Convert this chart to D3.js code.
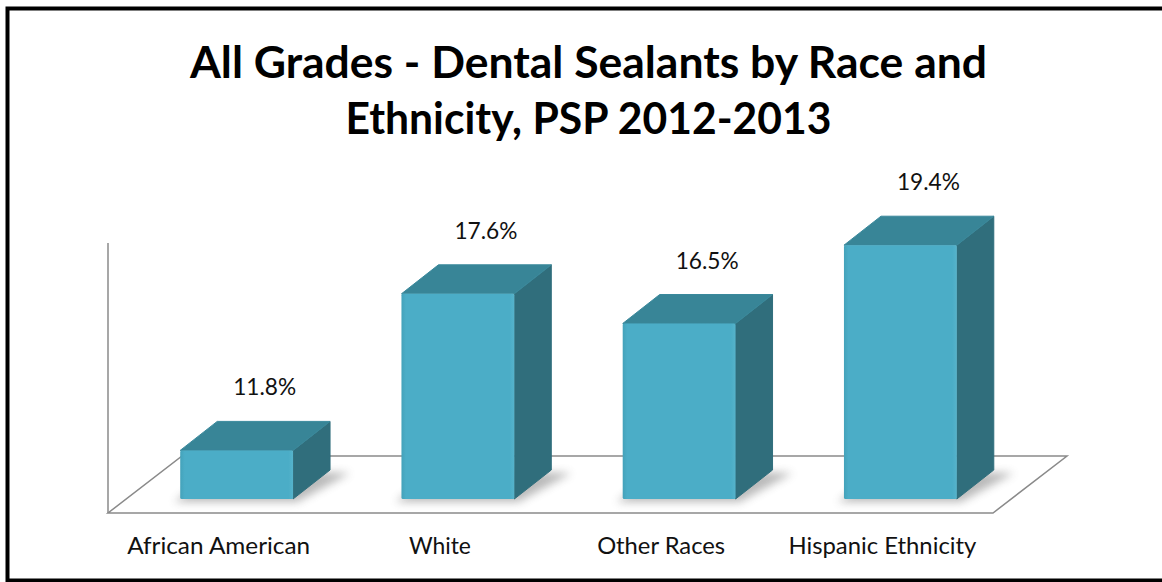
<!DOCTYPE html>
<html>
<head>
<meta charset="utf-8">
<script src="https://cdn.jsdelivr.net/npm/d3@7"></script>
<style>
  html, body { margin: 0; padding: 0; background: #fff; }
  svg { display: block; }
</style>
</head>
<body>
<svg id="chart" width="1162" height="582"></svg>
<script>
// ---- data ----
const categories = ["African American", "White", "Other Races", "Hispanic Ethnicity"];
const values = [11.8, 17.6, 16.5, 19.4];
const valueLabels = ["11.8%", "17.6%", "16.5%", "19.4%"];
const yDomain = [10, 20];
const titleLines = ["All Grades - Dental Sealants by Race and", "Ethnicity, PSP 2012-2013"];

// ---- layout / style ----
const floor = { left: 108, right: 993, frontY: 513, dx: 74, dy: -57 };
const barDepth = { dx: 37, dy: -29 };
const front = { dx: 18, dy: -14 };
const plotH = 270;
const font = "Lato, 'Open Sans', 'DejaVu Sans', sans-serif";
const catWidths = [183, 62, 128, 188];
const titleWidths = [797, 486];

const svg = d3.select("#chart");

const defs = svg.append("defs");
const f = defs.append("filter").attr("id", "shadow").attr("x", "-30%").attr("y", "-30%").attr("width", "160%").attr("height", "160%");
f.append("feGaussianBlur").attr("stdDeviation", 4);

const gFront = defs.append("linearGradient").attr("id", "gFront").attr("x1", 0).attr("x2", 1).attr("y1", 0).attr("y2", 0);
gFront.append("stop").attr("offset", "0%").attr("stop-color", "#44a2ba");
gFront.append("stop").attr("offset", "4%").attr("stop-color", "#4badc7");
gFront.append("stop").attr("offset", "96%").attr("stop-color", "#4badc7");
gFront.append("stop").attr("offset", "100%").attr("stop-color", "#56b3cb");

// border
svg.append("rect")
  .attr("x", 7.5).attr("y", 8.5).attr("width", 1200).attr("height", 572)
  .attr("fill", "#fff").attr("stroke", "#000").attr("stroke-width", 4);

// scales
const x = d3.scaleBand().domain(categories)
  .range([floor.left, floor.right]).paddingInner(0.49).paddingOuter(0.245);
const y = d3.scaleLinear().domain(yDomain).range([0, plotH]);

// floor
const floorPts = [
  [floor.left, floor.frontY], [floor.right, floor.frontY],
  [floor.right + floor.dx, floor.frontY + floor.dy], [floor.left + floor.dx, floor.frontY + floor.dy]
];
svg.append("polygon")
  .attr("points", floorPts.map(p => p.join(",")).join(" "))
  .attr("fill", "#fff").attr("stroke", "#8a8a8a").attr("stroke-width", 1.5);

// wall line
svg.append("line")
  .attr("x1", floor.left).attr("x2", floor.left)
  .attr("y1", floor.frontY).attr("y2", floor.frontY - y(yDomain[1]))
  .attr("stroke", "#8a8a8a").attr("stroke-width", 1.5);

const data = categories.map((c, i) => ({ c, v: values[i], label: valueLabels[i] }));
const bw = x.bandwidth();
const baseY = floor.frontY + front.dy;

const bars = svg.append("g").selectAll("g").data(data).join("g");

// shadows
bars.append("polygon")
  .attr("points", d => {
    const x0 = x(d.c) + front.dx;
    return [
      [x0 - 6, baseY + 3], [x0 + bw + 4, baseY + 3],
      [x0 + bw + barDepth.dx + 20, baseY + barDepth.dy + 3],
      [x0 + barDepth.dx, baseY + barDepth.dy]
    ].map(p => p.join(",")).join(" ");
  })
  .attr("fill", "#666").attr("opacity", 0.45).attr("filter", "url(#shadow)");

// side face
bars.append("polygon")
  .attr("points", d => {
    const x0 = x(d.c) + front.dx, yt = baseY - y(d.v);
    return [
      [x0 + bw, yt], [x0 + bw + barDepth.dx, yt + barDepth.dy],
      [x0 + bw + barDepth.dx, baseY + barDepth.dy], [x0 + bw, baseY]
    ].map(p => p.join(",")).join(" ");
  })
  .attr("fill", "#306e7c").attr("stroke", "#306e7c").attr("stroke-width", 1).attr("stroke-linejoin", "round");

// top face
bars.append("polygon")
  .attr("points", d => {
    const x0 = x(d.c) + front.dx, yt = baseY - y(d.v);
    return [
      [x0, yt], [x0 + bw, yt],
      [x0 + bw + barDepth.dx, yt + barDepth.dy], [x0 + barDepth.dx, yt + barDepth.dy]
    ].map(p => p.join(",")).join(" ");
  })
  .attr("fill", "#388597").attr("stroke", "#3a899c").attr("stroke-width", 1).attr("stroke-linejoin", "round");

// front face
bars.append("rect")
  .attr("x", d => x(d.c) + front.dx)
  .attr("y", d => baseY - y(d.v))
  .attr("width", bw)
  .attr("height", d => y(d.v))
  .attr("rx", 1.5)
  .attr("fill", "url(#gFront)");

// value labels
bars.append("text")
  .attr("x", d => x(d.c) + x.bandwidth() / 2 + 46)
  .attr("y", d => baseY - y(d.v) - 55)
  .attr("text-anchor", "middle")
  .attr("font-family", font).attr("font-size", 22.5).attr("fill", "#111")
  .attr("textLength", 63).attr("lengthAdjust", "spacingAndGlyphs")
  .text(d => d.label);

// category labels
svg.append("g").selectAll("text").data(categories).join("text")
  .attr("x", d => x(d) + x.bandwidth() / 2)
  .attr("y", 554)
  .attr("text-anchor", "middle")
  .attr("font-family", font).attr("font-size", 23).attr("fill", "#111")
  .attr("textLength", (d, i) => catWidths[i]).attr("lengthAdjust", "spacingAndGlyphs")
  .text(d => d);

// title
svg.append("g").selectAll("text").data(titleLines).join("text")
  .attr("x", 588.5)
  .attr("y", (d, i) => 78 + i * 56)
  .attr("text-anchor", "middle")
  .attr("font-family", font).attr("font-weight", "bold").attr("font-size", 44).attr("fill", "#000")
  .attr("textLength", (d, i) => titleWidths[i]).attr("lengthAdjust", "spacingAndGlyphs")
  .text(d => d);
</script>
</body>
</html>
